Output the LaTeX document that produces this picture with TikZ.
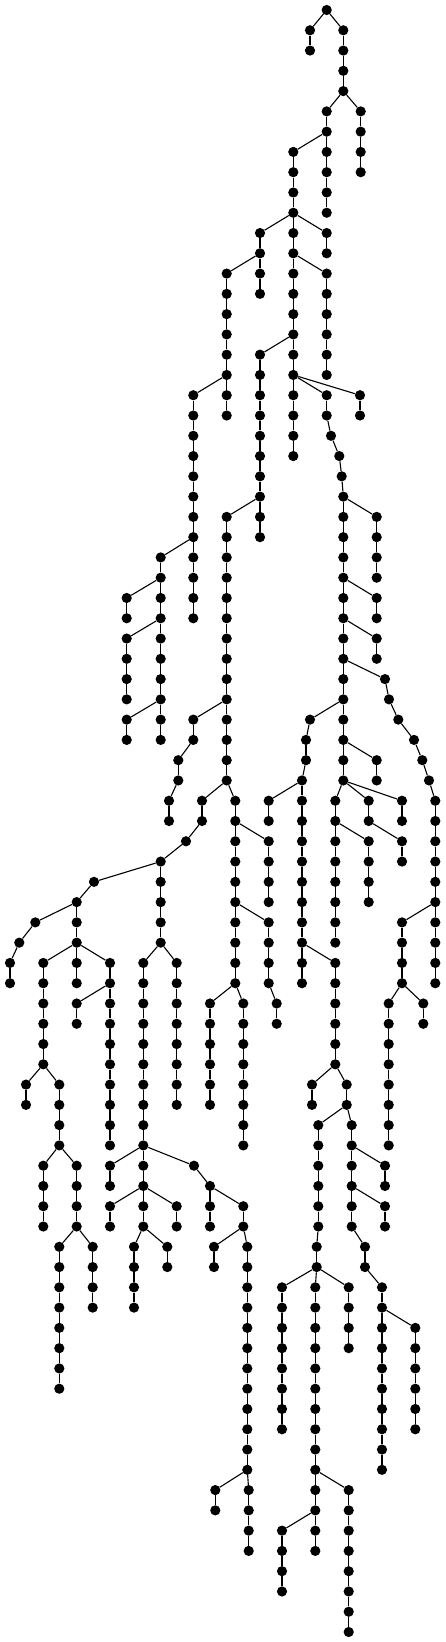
\documentclass[tikz,border=0pt]{standalone}
\usepackage{tikz}
\tikzset{
  vtx/.style={circle,fill=black,draw=none,minimum size=10.2pt,inner sep=0pt},
  lnk/.style={line width=1.1pt,black}
}
\newcommand\chn[5]{%
  \foreach \r in {#3,...,#4}{\node[vtx] (#1-\r) at (#2,\r) {};}%
  \draw[lnk] (#5) -- (#1-#3);%
  \ifnum#4>#3\relax
    \pgfmathtruncatemacro\chs{#3+1}%
    \foreach \r in {\chs,...,#4}{\pgfmathtruncatemacro\rp{\r-1}\draw[lnk] (#1-\rp) -- (#1-\r);}%
  \fi}
\begin{document}
\begin{tikzpicture}[x=1pt,y=-20.275pt]
\path[use as bounding box] (0,-0.4932) rectangle (446,80.493);
\node[vtx] (a-0) at (326.7,0) {};
\chn{a}{310}{1}{2}{a-0}
\chn{b}{343.3}{1}{4}{a-0}
\chn{c}{326.7}{5}{6}{b-4}
\chn{d}{360.7}{5}{8}{b-4}
\chn{e}{293.3}{7}{10}{c-6}
\chn{f}{326.7}{7}{10}{c-6}
\chn{g}{260}{11}{12}{e-10}
\chn{h}{293.3}{11}{12}{e-10}
\chn{i}{326.7}{11}{12}{e-10}
\chn{j}{226.7}{13}{18}{g-12}
\chn{k}{260}{13}{14}{g-12}
\chn{l}{293.3}{13}{16}{h-12}
\chn{m}{326.7}{13}{18}{h-12}
\chn{o}{260}{17}{24}{l-16}
\chn{p}{293.3}{17}{18}{l-16}
\chn{q}{293.3}{19}{22}{p-18}
\chn{r}{326.7}{19}{20}{p-18}
\chn{s}{360}{19}{20}{p-18}
\chn{ra}{331}{21}{21}{r-20}
\chn{rb}{339.3}{22}{22}{ra-21}
\chn{rc}{341.7}{23}{23}{rb-22}
\chn{rd}{343.3}{24}{24}{rc-23}
\chn{t}{343.3}{25}{28}{rd-24}
\chn{u}{376.7}{25}{28}{rd-24}
\chn{v}{343.3}{29}{30}{t-28}
\chn{w}{376.7}{29}{30}{t-28}
\chn{x}{343.3}{31}{32}{v-30}
\chn{y}{376.7}{31}{32}{v-30}
\chn{z}{343.3}{33}{34}{x-32}
\chn{aa}{385}{33}{33}{x-32}
\chn{ab}{389}{34}{34}{aa-33}
\chn{ac}{398.3}{35}{35}{ab-34}
\chn{ad}{414}{36}{36}{ac-35}
\chn{ae}{422.3}{37}{37}{ad-36}
\chn{af}{429}{38}{38}{ae-37}
\chn{ag}{435.3}{39}{44}{af-38}
\chn{ah}{402}{45}{48}{ag-44}
\chn{ai}{435.3}{45}{48}{ag-44}
\chn{aj}{388.7}{49}{56}{ah-48}
\chn{ak}{423.3}{49}{50}{ah-48}
\chn{ba}{310}{35}{35}{z-34}
\chn{bb}{306}{36}{37}{ba-35}
\chn{bc}{302}{38}{38}{bb-37}
\chn{bd}{268.7}{39}{40}{bc-38}
\chn{be}{302}{39}{46}{bc-38}
\chn{bf}{302}{47}{48}{be-46}
\chn{bg}{335.3}{47}{52}{be-46}
\chn{bh}{312}{53}{54}{bg-52}
\chn{bi}{346.7}{53}{54}{bg-52}
\chn{bj}{318.3}{55}{60}{bi-54}
\chn{bk}{316.7}{61}{62}{bj-60}
\chn{bl}{282}{63}{70}{bk-62}
\chn{bm}{315.3}{63}{72}{bk-62}
\chn{bn}{348.7}{63}{66}{bk-62}
\chn{bo}{315.3}{73}{74}{bm-72}
\chn{bp}{348.7}{73}{80}{bm-72}
\chn{bq}{282}{75}{78}{bo-74}
\chn{br}{315.3}{75}{76}{bo-74}
\chn{bs}{351.7}{55}{56}{bi-54}
\chn{bt}{351.7}{57}{58}{bs-56}
\chn{bu}{385}{57}{58}{bs-56}
\chn{bv}{351.7}{59}{60}{bt-58}
\chn{bw}{385}{59}{60}{bt-58}
\chn{bx}{365}{61}{62}{bv-60}
\chn{by}{382}{63}{64}{bx-62}
\chn{bz}{382}{65}{72}{by-64}
\chn{ca}{415.3}{65}{70}{by-64}
\chn{cb}{343.3}{35}{36}{z-34}
\chn{cc}{343.3}{37}{38}{cb-36}
\chn{cd}{376.7}{37}{38}{cb-36}
\chn{ce}{335.3}{39}{40}{cc-38}
\chn{cf}{368.7}{39}{40}{cc-38}
\chn{cg}{402}{39}{40}{cc-38}
\chn{ch}{335.3}{41}{46}{ce-40}
\chn{ci}{368.7}{41}{44}{ce-40}
\chn{cj}{402}{41}{42}{cf-40}
\chn{da}{193.3}{19}{26}{j-18}
\chn{db}{226.7}{19}{20}{j-18}
\chn{dc}{160.7}{27}{28}{da-26}
\chn{dd}{193.3}{27}{30}{da-26}
\chn{de}{126.7}{29}{30}{dc-28}
\chn{df}{160.7}{29}{30}{dc-28}
\chn{dg}{126.7}{31}{34}{df-30}
\chn{dh}{160.7}{31}{34}{df-30}
\chn{di}{126.7}{35}{36}{dh-34}
\chn{dj}{160.7}{35}{36}{dh-34}
\chn{ea}{226.7}{25}{34}{o-24}
\chn{eb}{260}{25}{26}{o-24}
\chn{ec}{193.3}{35}{36}{ea-34}
\chn{ed}{178.3}{37}{38}{ec-36}
\chn{ee}{169}{39}{40}{ed-38}
\chn{ef}{226.7}{35}{38}{ea-34}
\chn{eg}{202}{39}{40}{ef-38}
\chn{eh}{186}{41}{41}{eg-40}
\chn{ei}{160.7}{42}{42}{eh-41}
\chn{ej}{94}{43}{43}{ei-42}
\chn{ek}{76.7}{44}{44}{ej-43}
\chn{el}{35.3}{45}{45}{ek-44}
\chn{em}{19.3}{46}{46}{el-45}
\chn{en}{10}{47}{48}{em-46}
\chn{eo}{76.7}{45}{46}{ek-44}
\chn{ep}{43.3}{47}{52}{eo-46}
\chn{eq}{76.7}{47}{48}{eo-46}
\chn{er}{110}{47}{48}{eo-46}
\chn{es}{26}{53}{54}{ep-52}
\chn{et}{59.3}{53}{56}{ep-52}
\chn{eu}{43.3}{57}{60}{et-56}
\chn{ev}{76.7}{57}{60}{et-56}
\chn{ew}{59.3}{61}{68}{ev-60}
\chn{ex}{92.7}{61}{64}{ev-60}
\chn{ey}{76.7}{49}{50}{er-48}
\chn{ez}{110}{49}{56}{er-48}
\chn{fa}{160.7}{43}{46}{ei-42}
\chn{fb}{143.3}{47}{56}{fa-46}
\chn{fc}{176.7}{47}{54}{fa-46}
\chn{fd}{110}{57}{58}{fb-56}
\chn{fe}{143.3}{57}{58}{fb-56}
\chn{ff}{194}{57}{57}{fb-56}
\chn{fg}{110}{59}{60}{fe-58}
\chn{fh}{143.3}{59}{60}{fe-58}
\chn{fi}{176.7}{59}{60}{fe-58}
\chn{fj}{134}{61}{64}{fh-60}
\chn{fk}{167.3}{61}{62}{fh-60}
\chn{fl}{210}{58}{58}{ff-57}
\chn{fm}{210}{59}{60}{fl-58}
\chn{fn}{243.3}{59}{60}{fl-58}
\chn{fo}{214}{61}{62}{fn-60}
\chn{fp}{247.3}{61}{72}{fn-60}
\chn{fq}{215.3}{73}{74}{fp-72}
\chn{fr}{248.7}{73}{76}{fp-72}
\chn{ga}{235.3}{39}{40}{ef-38}
\chn{gb}{235.3}{41}{44}{ga-40}
\chn{gc}{268.7}{41}{44}{ga-40}
\chn{gd}{235.3}{45}{48}{gb-44}
\chn{ge}{268.7}{45}{48}{gb-44}
\chn{gf}{276.7}{49}{50}{ge-48}
\chn{gg}{210}{49}{54}{gd-48}
\chn{gh}{243.3}{49}{56}{gd-48}
\end{tikzpicture}
\end{document}
